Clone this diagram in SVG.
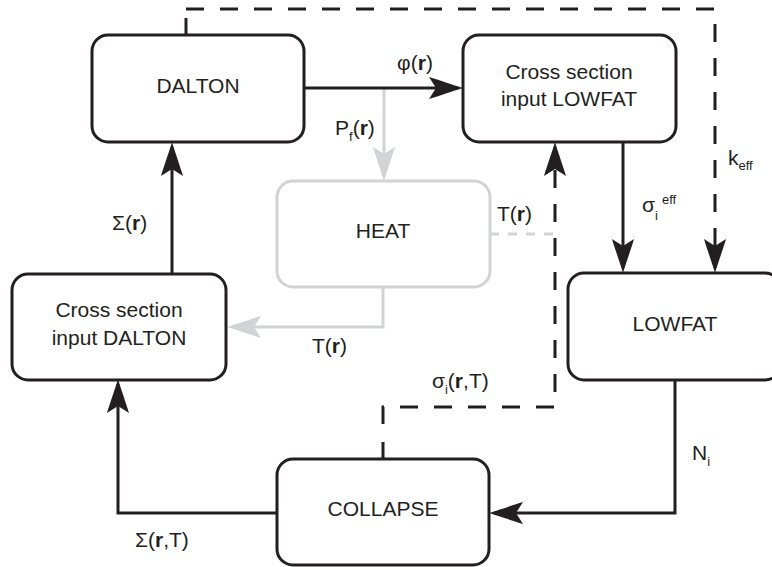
<svg xmlns="http://www.w3.org/2000/svg" width="772" height="567" viewBox="0 0 772 567">
<style>
text{font-family:"Liberation Sans",Arial,sans-serif;fill:#231f20}
.lbl{font-size:21px;text-anchor:middle}
.el{font-size:21px}
.sub{font-size:13px}
.box{fill:none;stroke:#231f20;stroke-width:3}
.gbox{fill:none;stroke:#d1d3d4;stroke-width:3}
.ln{fill:none;stroke:#231f20;stroke-width:3}
.dash{fill:none;stroke:#231f20;stroke-width:3;stroke-dasharray:18 16}
.gln{fill:none;stroke:#d1d3d4;stroke-width:3}
.gdash{fill:none;stroke:#d1d3d4;stroke-width:3;stroke-dasharray:9 9}
.arr{marker-end:url(#ah)}
.garr{marker-end:url(#gah)}
</style>
<defs>
<marker id="ah" viewBox="-36 -13 38 26" refX="-5" refY="0" markerWidth="38" markerHeight="26" markerUnits="userSpaceOnUse" orient="auto">
<path d="M0,0 C-10,-3 -24,-8 -34,-11 L-27,0 L-34,11 C-24,8 -10,3 0,0 Z" fill="#231f20"/>
</marker>
<marker id="gah" viewBox="-36 -13 38 26" refX="-5" refY="0" markerWidth="38" markerHeight="26" markerUnits="userSpaceOnUse" orient="auto">
<path d="M0,0 C-10,-3 -24,-8 -34,-11 L-27,0 L-34,11 C-24,8 -10,3 0,0 Z" fill="#d1d3d4"/>
</marker>
</defs>

<g id="connectors">
<path class="gln garr" d="M384,88 L384,176"/>
<path class="gln garr" d="M383,287 L383,327 L232,327"/>
<path class="gdash" d="M490,234 L553,234"/>
<path class="ln arr" d="M304,88 L458,88"/>
<path class="ln arr" d="M172,274 L172,147"/>
<path class="ln arr" d="M623,142 L623,268"/>
<path class="ln arr" d="M675,380 L675,513 L494,513"/>
<path class="ln arr" d="M277,513 L118,513 L118,384"/>
<path class="ln" d="M186,35 L186,18"/>
<path class="dash arr" d="M186,9 L715,9 L715,268"/>
<path class="ln" d="M383,459 L383,442"/>
<path class="dash arr" d="M383,424 L383,407 L555,407 L555,147"/>
<text class="el" x="415" y="70" text-anchor="middle">φ(<tspan font-weight="bold">r</tspan>)</text>
<text class="el" x="335" y="135">P<tspan class="sub" dy="6">f</tspan><tspan dy="-6">(</tspan><tspan font-weight="bold">r</tspan>)</text>
<text class="el" x="497" y="221">T(<tspan font-weight="bold">r</tspan>)</text>
<text class="el" x="312" y="353">T(<tspan font-weight="bold">r</tspan>)</text>
<text class="el" x="112" y="230">Σ(<tspan font-weight="bold">r</tspan>)</text>
<text class="el" x="432" y="388">σ<tspan class="sub" dy="6">i</tspan><tspan dy="-6">(</tspan><tspan font-weight="bold">r</tspan>,T)</text>
<text class="el" x="135" y="547">Σ(<tspan font-weight="bold">r</tspan>,T)</text>
<text class="el" x="692" y="460">N<tspan class="sub" dy="6">i</tspan></text>
<text class="el" x="728" y="165">k<tspan class="sub" dy="5">eff</tspan></text>
<text class="el" x="642" y="212">σ</text>
<text class="sub" x="655" y="220">i</text>
<text class="sub" x="662" y="204">eff</text>
</g>

<g id="dalton">
<rect class="box" x="92" y="35" width="212" height="107" rx="16"/>
<text class="lbl" x="198" y="93">DALTON</text>
</g>
<g id="xs-lowfat">
<rect class="box" x="463" y="35" width="213" height="107" rx="16"/>
<text class="lbl" x="569" y="79">Cross section</text>
<text class="lbl" x="569" y="106">input LOWFAT</text>
</g>
<g id="heat">
<rect class="gbox" x="277" y="181" width="213" height="106" rx="16"/>
<text class="lbl" x="383" y="238">HEAT</text>
</g>
<g id="xs-dalton">
<rect class="box" x="12" y="274" width="214" height="106" rx="16"/>
<text class="lbl" x="119" y="317">Cross section</text>
<text class="lbl" x="119" y="345">input DALTON</text>
</g>
<g id="lowfat">
<rect class="box" x="568" y="273" width="213" height="107" rx="16"/>
<text class="lbl" x="675" y="331">LOWFAT</text>
</g>
<g id="collapse">
<rect class="box" x="277" y="459" width="212" height="106" rx="16"/>
<text class="lbl" x="383" y="516">COLLAPSE</text>
</g>
</svg>
